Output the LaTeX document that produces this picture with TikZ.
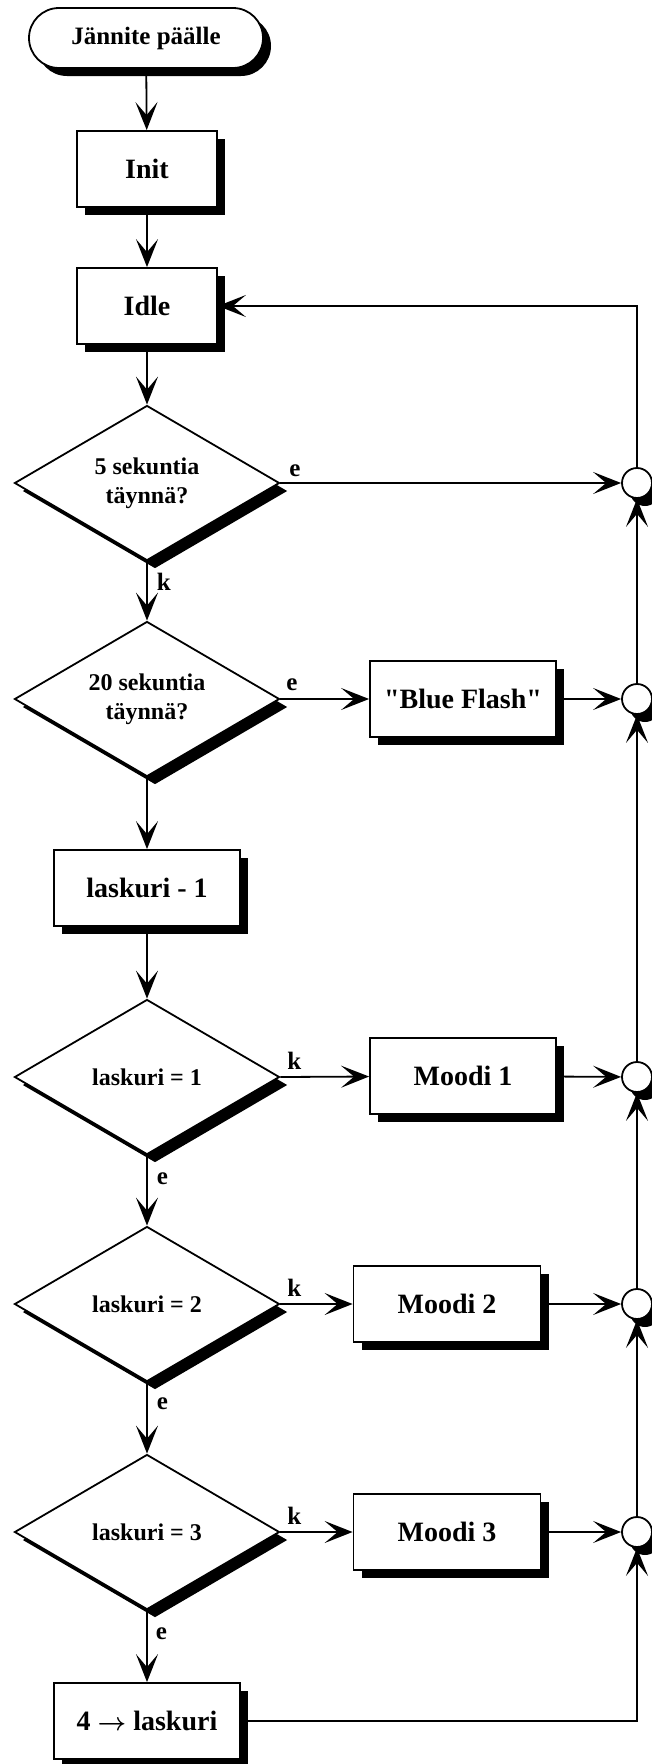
\documentclass[tikz,border=0pt]{standalone}
\usepackage{bm}
\usepackage{fontspec}
\setmainfont{Liberation Serif}[Ligatures=TeXOff]
\usetikzlibrary{arrows.meta}
\usetikzlibrary{shapes.geometric}
\usetikzlibrary{shapes.misc}
\usetikzlibrary{shadows}

\begin{document}
\begin{tikzpicture}[x=1pt, y=-1pt,
    varjo/.style={drop shadow={shadow xshift=8pt, shadow yshift=-8pt, fill=black, opacity=1}},
    alkupiste/.style={rounded rectangle, draw, fill=white, line width=1.8pt, varjo,
      minimum width=234pt, minimum height=60pt, inner sep=0pt,
      font=\bfseries\fontsize{25}{29}\selectfont},
    laatikko/.style={draw, fill=white, line width=1.8pt, varjo,
      minimum width=186pt, minimum height=76pt, inner sep=0pt,
      font=\bfseries\fontsize{28}{30}\selectfont},
    paatos/.style={diamond, draw, fill=white, line width=1.8pt, varjo, aspect=1.7,
      minimum width=265pt, minimum height=155pt, inner sep=0pt, align=center,
      font=\bfseries\fontsize{24}{29}\selectfont},
    liitos/.style={circle, draw, fill=white, line width=1.8pt, varjo,
      minimum size=30pt, inner sep=0pt},
    nuoli/.style={-{Stealth[length=28pt, width=22pt, inset=13pt]}, line width=1.8pt},
    merkki/.style={inner sep=0pt, font=\bfseries\fontsize{25}{29}\selectfont}]

        \useasboundingbox (0,0) rectangle (652,1764);

        %------------------
        % vasen sarake
        %------------------

        \node[alkupiste] (alku) at (146,38) {Jännite päälle};
        \node[laatikko, minimum width=140pt] (init) at (147,169) {Init};
        \node[laatikko, minimum width=140pt] (idle) at (147,306) {Idle};
        \node[paatos] (d1) at (147,483) {5 sekuntia\\täynnä?};
        \node[paatos] (d2) at (147,699) {20 sekuntia\\täynnä?};
        \node[laatikko] (vah) at (147,888) {laskuri - 1};
        \node[paatos] (d3) at (147,1077) {laskuri = 1};
        \node[paatos] (d4) at (147,1304) {laskuri = 2};
        \node[paatos] (d5) at (147,1532) {laskuri = 3};
        \node[laatikko] (aseta) at (147,1721) {4 $\bm{\rightarrow}$ laskuri};

        %------------------
        % oikea puoli
        %------------------

        \node[laatikko] (flash) at (463,699) {"Blue Flash"};
        \node[laatikko] (m1) at (463,1076) {Moodi 1};
        \node[laatikko, minimum width=187pt] (m2) at (447,1304) {Moodi 2};
        \node[laatikko, minimum width=187pt] (m3) at (447,1532) {Moodi 3};

        % liitospisteet
        \foreach \y [count=\i] in {483,699,1077,1304,1532}
          \node[liitos] (c\i) at (637,\y) {};

        %------------------
        % nuolet
        %------------------

        \draw[nuoli] (alku) -- (init);
        \draw[nuoli] (init) -- (idle);
        \draw[nuoli] (idle) -- (d1);
        \draw[nuoli] (d1) -- node[merkki, pos=0, anchor=base west, xshift=9pt, yshift=-29pt] (k1) {k} (d2);
        \draw[nuoli] (d1.east) -- node[merkki, pos=0, anchor=base west, xshift=8pt, yshift=7pt] (e1) {e} (c1);
        \draw[nuoli] (d2.east) -- node[merkki, pos=0, anchor=base west, xshift=5pt, yshift=9pt] (e2) {e} (flash);
        \draw[nuoli] (flash) -- (c2);
        \draw[nuoli] (d2) -- (vah);
        \draw[nuoli] (vah) -- (d3);

        \draw[nuoli] (d3.east) -- node[merkki, pos=0, anchor=base west, xshift=6pt, yshift=8pt] (k3) {k} (m1);
        \draw[nuoli] (d4.east) -- node[merkki, pos=0, anchor=base west, xshift=6pt, yshift=8pt] (k4) {k} (m2);
        \draw[nuoli] (d5.east) -- node[merkki, pos=0, anchor=base west, xshift=6pt, yshift=8pt] (k5) {k} (m3);
        \draw[nuoli] (m1) -- (c3);
        \draw[nuoli] (m2) -- (c4);
        \draw[nuoli] (m3) -- (c5);

        \draw[nuoli] (d3) -- node[merkki, pos=0, anchor=base west, xshift=9pt, yshift=-29pt] (e3) {e} (d4);
        \draw[nuoli] (d4) -- node[merkki, pos=0, anchor=base west, xshift=9pt, yshift=-27pt] (e4) {e} (d5);
        \draw[nuoli] (d5) -- node[merkki, pos=0, anchor=base west, xshift=8pt, yshift=-29pt] (e5) {e} (aseta);

        % paluu takaisin Idleen
        \draw[nuoli] (aseta) -| (c5);
        \foreach \a/\b in {5/4,4/3,3/2,2/1}
          \draw[nuoli] (c\a) -- (c\b);
        \draw[nuoli] (c1) |- (idle);
      \end{tikzpicture}
\end{document}
